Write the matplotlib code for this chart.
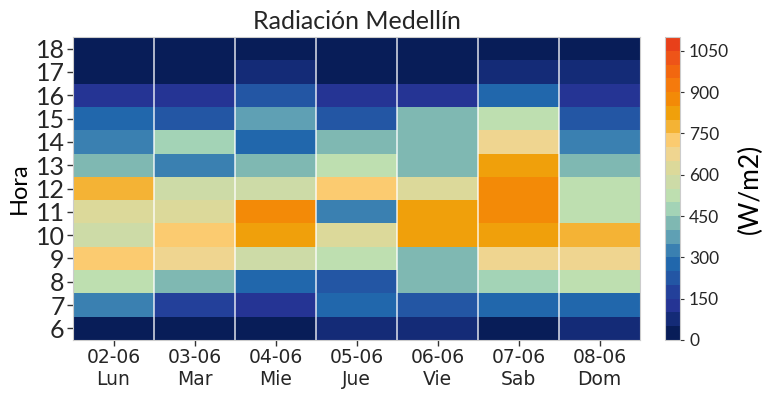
import numpy as np
import matplotlib.pyplot as plt
from matplotlib.colors import ListedColormap, BoundaryNorm

# datos: radiacion (W/m2) por hora (filas 6..18) y dia (columnas)
dias = ["02-06\nLun", "03-06\nMar", "04-06\nMie", "05-06\nJue", "06-06\nVie", "07-06\nSab", "08-06\nDom"]
horas = list(range(6, 19))

lun = [10, 320, 520, 720, 570, 620, 770, 420, 320, 270, 130, 20, 25]
mar = [20, 180, 430, 680, 730, 610, 570, 330, 470, 230, 140, 30, 15]
mie = [20, 140, 270, 570, 820, 870, 580, 420, 280, 380, 220, 80, 30]
jue = [70, 260, 230, 530, 630, 330, 720, 520, 430, 240, 130, 40, 20]
vie = [60, 220, 440, 410, 830, 810, 620, 440, 430, 420, 120, 40, 20]
sab = [30, 270, 480, 660, 810, 860, 880, 820, 670, 530, 280, 90, 30]
dom = [80, 280, 510, 690, 760, 540, 520, 430, 320, 230, 140, 70, 30]

niveles = list(range(0, 1101, 50))
colores = ["#081d58", "#142b77", "#253494", "#23409a", "#2356a4", "#2167ac",
           "#3a80b1", "#5fa0b4", "#7fb8b2", "#a3d3b6", "#bedfb0", "#cddba7",
           "#dcd99a", "#efd590", "#fbcb70", "#f4b335", "#f0a00b", "#f38a07",
           "#f57a0c", "#f2670f", "#ee5418", "#e8401a"]

datos = np.array([lun, mar, mie, jue, vie, sab, dom]).T

cmap = ListedColormap(colores)
norm = BoundaryNorm(niveles, cmap.N)

plt.rcParams["text.color"] = "#262626"
plt.rcParams["xtick.labelcolor"] = "#262626"
plt.rcParams["ytick.labelcolor"] = "#262626"

fig = plt.figure(figsize=(7.67, 3.95), dpi=100)
ax = fig.add_axes([73 / 767, 55 / 395, 567 / 767, 303 / 395])
cax = fig.add_axes([665 / 767, 55 / 395, 15 / 767, 303 / 395])

x = np.arange(len(dias))
y = np.array(horas)
m = ax.pcolormesh(np.arange(len(dias) + 1) - 0.5, np.append(y, y[-1] + 1) - 0.5,
                  datos, cmap=cmap, norm=norm, shading="flat")
for xi in x[1:]:
    ax.axvline(xi - 0.5, color="white", lw=1.2, alpha=0.8)

ax.set_xticks(x)
ax.set_xticklabels(dias, fontsize=13.5, family="DejaVu Sans")
ax.set_yticks(y)
ax.set_yticklabels([str(h) for h in horas], fontsize=18, family="Lato")
ax.tick_params(axis="both", length=4, width=1, color="#333333", direction="out", pad=2)
ax.set_ylabel("Hora", fontsize=17, family="Lato", labelpad=4)
ax.set_title("Radiación Medellín", fontsize=18, family="Lato", pad=6)
for s in ax.spines.values():
    s.set_color("#cccccc")

cb = fig.colorbar(m, cax=cax, ticks=range(0, 1051, 150))
cb.ax.minorticks_off()
cb.ax.tick_params(labelsize=12.5, length=3, color="#333333")
for t in cb.ax.get_yticklabels():
    t.set_family("Lato")
cb.set_label("(W/m2)", fontsize=19, family="Lato", labelpad=6)
cb.outline.set_edgecolor("#cccccc")

fig.savefig("out.png", dpi=100)
